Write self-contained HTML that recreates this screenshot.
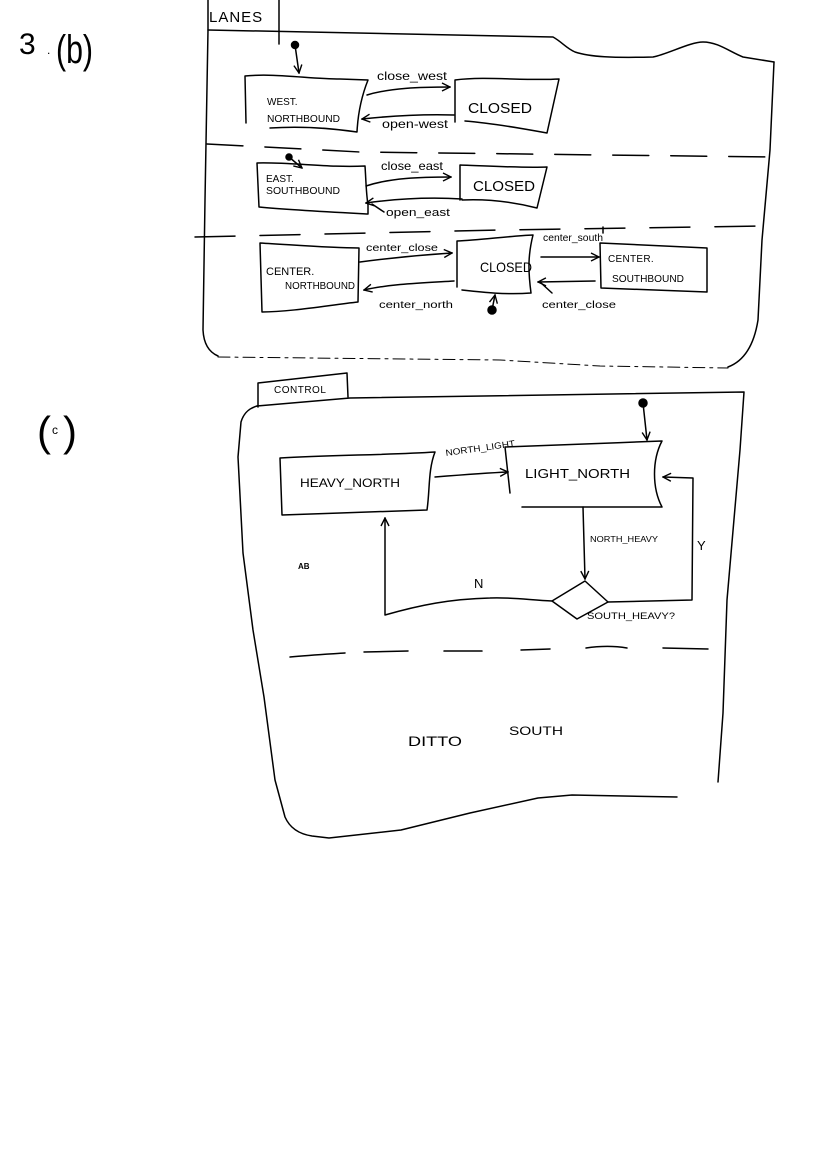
<!DOCTYPE html>
<html><head><meta charset="utf-8"><style>
html,body{margin:0;padding:0;background:#fff;}
svg{display:block;}
text{font-family:"Liberation Sans",sans-serif;fill:#000;}
</style></head><body>
<svg width="832" height="1158" viewBox="0 0 832 1158" xmlns="http://www.w3.org/2000/svg">
<defs>
<marker id="a" viewBox="0 0 10 10" refX="9" refY="5" markerWidth="10" markerHeight="10" orient="auto" markerUnits="userSpaceOnUse">
<path d="M1,1 L9,5 L1,9" fill="none" stroke="#000" stroke-width="1.4"/>
</marker>
</defs>
<g fill="none" stroke="#000" stroke-width="1.5" stroke-linecap="round" stroke-linejoin="round">
<!-- LANES frame -->
<path d="M208,0 L208,30 L205,200 L203,330 Q204,350 218,356"/>
<path d="M279,0 L279,44"/>
<path d="M208,30 L553,37 C562,42 566,48 575,52 C590,57 613,58 653,57 C668,54 690,42 703,42 C718,42 730,52 743,57 L774,62"/>
<path d="M774,62 L770,150 L762,240 L758,320 Q752,358 728,367"/>
<path d="M218,357 L500,360 L600,366 L728,368" stroke-width="1" stroke-dasharray="12,5,3,5"/>
<!-- dashed lines -->
<path d="M207,144 L360,152 L770,157" stroke-dasharray="36,22"/>
<path d="M195,237 L500,230 L765,226" stroke-dasharray="40,25"/>
<path d="M603,227 L603,233"/>
<!-- WEST -->
<circle cx="295" cy="45" r="3.5" fill="#000"/>
<path d="M295,45 L299,73" marker-end="url(#a)"/>
<path d="M245,76 C275,73 310,79 340,79 L368,80 C362,95 358,112 357,132 C330,128 300,126 270,128 M245,76 L246,123"/>
<path d="M455,122 L455,80 C485,76 525,81 559,79 L547,133 C520,128 490,123 465,121"/>
<path d="M367,95 C390,88 420,87 450,87" marker-end="url(#a)"/>
<path d="M454,115 C420,114 390,116 362,119" marker-end="url(#a)"/>
<!-- EAST -->
<circle cx="289" cy="157" r="3" fill="#000"/>
<path d="M289,157 L302,168" marker-end="url(#a)"/>
<path d="M257,163 C290,162 330,168 365,166 C366,180 366,192 368,205 L368,214 C330,212 290,210 259,207 Z"/>
<path d="M460,200 L460,165 C490,166 520,168 547,167 L537,208 C510,201 485,199 462,200"/>
<path d="M366,186 C390,178 420,177 451,177" marker-end="url(#a)"/>
<path d="M462,199 C430,197 395,199 366,203" marker-end="url(#a)"/>
<path d="M372,204 Q378,208 384,212"/>
<!-- CENTER -->
<path d="M260,243 C295,245 330,248 359,248 L358,302 C330,305 290,312 262,312 Z"/>
<path d="M457,287 L457,241 C480,240 510,236 533,235 C528,255 528,270 531,293 C505,295 480,292 462,290"/>
<path d="M600,243 L707,248 L707,292 L601,288 Z"/>
<path d="M360,262 C390,258 420,255 452,253" marker-end="url(#a)"/>
<path d="M454,281 C420,283 390,284 364,290" marker-end="url(#a)"/>
<path d="M541,257 L599,257" marker-end="url(#a)"/>
<path d="M595,281 L538,282" marker-end="url(#a)"/>
<path d="M540,282 L552,293"/>
<circle cx="492" cy="310" r="4" fill="#000"/>
<path d="M492,310 L495,295" marker-end="url(#a)"/>
<!-- CONTROL frame -->
<path d="M258,407 L258,383 L347,373 L348,397"/>
<path d="M257,406 C250,408 244,412 241,422 L238,457 L243,553 L253,630 L264,697 L275,780 L285,817 Q292,833 312,836 L329,838 L401,830 L470,813 L538,798 L572,795 L677,797"/>
<path d="M257,406 L350,398 L744,392 L740,450 L727,600 L723,713 L718,782"/>
<!-- HEAVY_NORTH -->
<path d="M280,458 C330,455 390,455 435,452 C428,470 430,490 427,510 C380,512 330,513 282,515 Z"/>
<!-- LIGHT_NORTH -->
<path d="M505,447 C560,445 610,443 662,441 C652,460 652,488 662,507 L522,507 M505,447 L510,493"/>
<circle cx="643" cy="403" r="4" fill="#000"/>
<path d="M643,403 L647,440" marker-end="url(#a)"/>
<path d="M435,477 C460,475 485,473 508,472" marker-end="url(#a)"/>
<path d="M583,507 L585,579" marker-end="url(#a)"/>
<path d="M552,601 L585,581 L608,602 L577,619 Z"/>
<path d="M608,602 L692,600 L693,478 L663,477" marker-end="url(#a)"/>
<path d="M552,601 C530,600 510,597 490,598 C450,599 420,605 385,615 L385,518" marker-end="url(#a)"/>
<!-- dashed control -->
<path d="M290,657 C310,655 330,654 345,653 M364,652 L408,651 M444,651 L482,651 M521,650 L550,649 M586,648 C600,646 615,646 627,648 M663,648 L708,649"/>
</g>
<!-- Texts -->
<text x="19" y="54" font-size="30">3</text>
<text x="47" y="54" font-size="12">.</text>
<text x="56" y="63" font-size="40" textLength="37" lengthAdjust="spacingAndGlyphs">(b)</text>
<text x="37" y="446" font-size="42">(</text>
<text x="52" y="434" font-size="12">c</text>
<text x="63" y="446" font-size="42">)</text>
<text x="209" y="22" font-size="15" letter-spacing="1">LANES</text>
<text x="267" y="105" font-size="10">WEST.</text>
<text x="267" y="122" font-size="10" textLength="73" lengthAdjust="spacingAndGlyphs">NORTHBOUND</text>
<text x="468" y="113" font-size="15" textLength="64" lengthAdjust="spacingAndGlyphs">CLOSED</text>
<text x="377" y="80" font-size="12" textLength="70" lengthAdjust="spacingAndGlyphs">close_west</text>
<text x="382" y="128" font-size="12" textLength="66" lengthAdjust="spacingAndGlyphs">open-west</text>
<text x="266" y="182" font-size="10">EAST.</text>
<text x="266" y="194" font-size="10" textLength="74" lengthAdjust="spacingAndGlyphs">SOUTHBOUND</text>
<text x="473" y="191" font-size="15" textLength="62" lengthAdjust="spacingAndGlyphs">CLOSED</text>
<text x="381" y="170" font-size="12" textLength="62" lengthAdjust="spacingAndGlyphs">close_east</text>
<text x="386" y="216" font-size="11" textLength="64" lengthAdjust="spacingAndGlyphs">open_east</text>
<text x="266" y="275" font-size="11">CENTER.</text>
<text x="285" y="289" font-size="10" textLength="70" lengthAdjust="spacingAndGlyphs">NORTHBOUND</text>
<text x="480" y="272" font-size="14" textLength="52" lengthAdjust="spacingAndGlyphs">CLOSED</text>
<text x="608" y="262" font-size="10" letter-spacing="0.3">CENTER.</text>
<text x="612" y="282" font-size="10" textLength="72" lengthAdjust="spacingAndGlyphs">SOUTHBOUND</text>
<text x="366" y="251" font-size="10" textLength="72" lengthAdjust="spacingAndGlyphs">center_close</text>
<text x="379" y="308" font-size="10" textLength="74" lengthAdjust="spacingAndGlyphs">center_north</text>
<text x="543" y="241" font-size="10" textLength="60" lengthAdjust="spacingAndGlyphs">center_south</text>
<text x="542" y="308" font-size="10" textLength="74" lengthAdjust="spacingAndGlyphs">center_close</text>
<text x="274" y="393" font-size="10" letter-spacing="0.5">CONTROL</text>
<text x="300" y="487" font-size="12" textLength="100" lengthAdjust="spacingAndGlyphs">HEAVY_NORTH</text>
<text x="525" y="478" font-size="13" textLength="105" lengthAdjust="spacingAndGlyphs">LIGHT_NORTH</text>
<text x="446" y="456" font-size="9" transform="rotate(-8 446 456)" textLength="70" lengthAdjust="spacingAndGlyphs">NORTH_LIGHT</text>
<text x="590" y="542" font-size="8" textLength="68" lengthAdjust="spacingAndGlyphs">NORTH_HEAVY</text>
<text x="587" y="619" font-size="9" textLength="88" lengthAdjust="spacingAndGlyphs">SOUTH_HEAVY?</text>
<text x="697" y="550" font-size="13">Y</text>
<text x="474" y="588" font-size="13">N</text>
<text x="298" y="569" font-size="8" font-weight="bold">AB</text>
<text x="408" y="746" font-size="14" textLength="54" lengthAdjust="spacingAndGlyphs">DITTO</text>
<text x="509" y="735" font-size="12" textLength="54" lengthAdjust="spacingAndGlyphs">SOUTH</text>
</svg>
</body></html>
